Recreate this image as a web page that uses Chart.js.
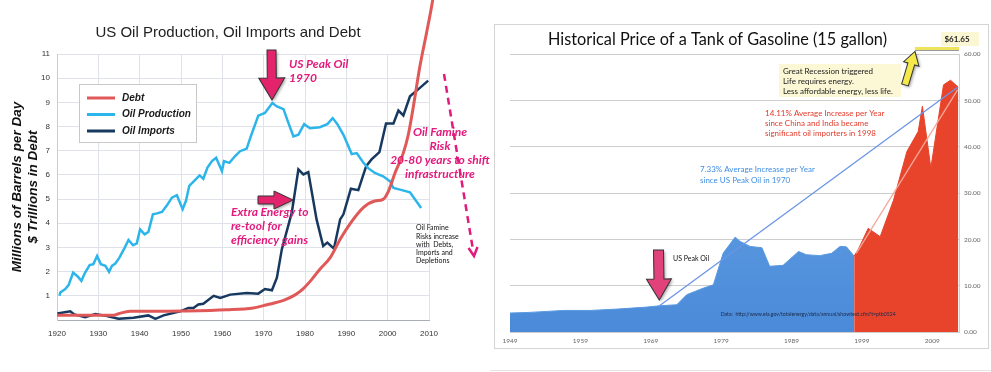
<!DOCTYPE html>
<html lang="en">
<head>
  <meta charset="UTF-8">
  <title>US Oil Production, Imports, Debt and the Price of a Tank of Gasoline</title>
  <script src="https://cdn.jsdelivr.net/npm/chart.js"></script>
  <style>
    body { margin: 0; background: #fff; }
    #wrap { position: relative; width: 991px; height: 372px; overflow: hidden; }
    #oilChart { position: absolute; left: 0; top: 0; }
    #frame { position: absolute; left: 494px; top: 24px; width: 495px; height: 325px; box-sizing: border-box; border: 1px solid #d4d4d4; }
    #gasChart { position: absolute; left: 495px; top: 25px; }
    #baseLine { position: absolute; left: 490px; top: 370px; width: 501px; height: 1px; background: #e4e4e4; }
  </style>
</head>
<body>
  <div id="wrap">
    <canvas id="oilChart" width="490" height="372"></canvas>
    <div id="frame"></div>
    <canvas id="gasChart" width="493" height="323"></canvas>
    <div id="baseLine"></div>
  </div>

  <script>
    // ---- left chart: millions of barrels per day / $ trillions ----
    const decadeTicks = [1920, 1930, 1940, 1950, 1960, 1970, 1980, 1990, 2000, 2010];

    const debtYears  = [1920, 1933.7, 1934.9, 1937.7, 1942.6, 1950.4, 1961.1, 1967.5, 1970.8, 1974.8, 1977.6, 1979.6, 1981.6, 1983.6, 1986.1, 1988.5, 1991.1, 1994.1, 1996.9, 1998.9, 2000.2, 2001.8, 2003.8, 2005.0, 2006.2, 2007.8, 2009.4, 2010.9, 2011.5];
    const debtValues = [0.2, 0.2, 0.26, 0.36, 0.36, 0.37, 0.42, 0.5, 0.63, 0.81, 1.04, 1.3, 1.67, 2.1, 2.58, 3.34, 4.03, 4.65, 4.92, 4.99, 5.33, 6.09, 6.91, 7.67, 8.81, 10.49, 11.87, 13.24, 14.0];

    const prodYears  = [1920.6, 1920.8, 1922, 1922.8, 1923.9, 1925, 1925.9, 1926.8, 1927.9, 1928.8, 1929.7, 1930.6, 1931.7, 1932.6, 1933.3, 1934.1, 1935.1, 1936.3, 1937.3, 1938.4, 1939.3, 1940.1, 1941.2, 1942.1, 1943.2, 1944.2, 1945.4, 1946.6, 1947.8, 1949, 1950.4, 1951.2, 1952, 1953.2, 1954.5, 1955.4, 1956.4, 1957.5, 1958.5, 1959.9, 1960.4, 1961.7, 1963.1, 1964.3, 1965.9, 1966.9, 1968.7, 1970.3, 1972.1, 1973.2, 1974.8, 1976, 1977.2, 1978.4, 1979.8, 1981.2, 1983.6, 1985.4, 1986.7, 1987.8, 1989.3, 1991.3, 1992.5, 1994.1, 1995.3, 1996.9, 1998.9, 2000.6, 2001.4, 2003, 2005.4, 2008.1];
    const prodValues = [1.0, 1.14, 1.28, 1.44, 1.96, 1.8, 1.62, 1.96, 2.27, 2.31, 2.65, 2.31, 2.24, 1.99, 2.24, 2.33, 2.58, 2.96, 3.31, 3.09, 3.17, 3.75, 3.54, 3.64, 4.37, 4.41, 4.47, 4.74, 5.06, 5.16, 4.58, 4.93, 5.55, 5.75, 5.98, 5.84, 6.3, 6.57, 6.71, 6.16, 6.57, 6.5, 6.78, 6.98, 7.09, 7.6, 8.45, 8.56, 8.97, 8.83, 8.72, 8.14, 7.59, 7.66, 8.1, 7.93, 7.97, 8.1, 8.35, 8.11, 7.66, 6.86, 6.9, 6.51, 6.28, 6.08, 5.94, 5.73, 5.46, 5.39, 5.28, 4.63];

    const importYears  = [1920.1, 1923.2, 1924.2, 1926.8, 1929.3, 1932.1, 1934.9, 1938.5, 1942.1, 1943.8, 1945.8, 1949.8, 1951.8, 1953, 1954.2, 1955.4, 1957.9, 1959.5, 1961.9, 1965.9, 1968.7, 1970.3, 1972, 1973.2, 1974.4, 1976.8, 1978.4, 1979.6, 1980.8, 1982.8, 1984.4, 1985.4, 1987, 1988.5, 1989.3, 1991.1, 1992.9, 1994.8, 1996.1, 1998, 1999.6, 2001.4, 2002.6, 2003.8, 2005.4, 2007.8, 2009.8];
    const importValues = [0.27, 0.36, 0.23, 0.12, 0.25, 0.16, 0.05, 0.09, 0.19, 0.05, 0.19, 0.36, 0.5, 0.5, 0.64, 0.67, 1.0, 0.91, 1.05, 1.12, 1.09, 1.28, 1.23, 1.75, 2.93, 4.44, 6.23, 6.02, 6.12, 4.16, 3.06, 3.2, 2.95, 4.16, 4.37, 5.43, 5.37, 6.36, 6.64, 6.94, 8.13, 8.13, 8.66, 8.46, 9.25, 9.6, 9.9];

    // ---- right chart: $ per 15 gallon tank ----
    const gasYearTicks = [1949, 1959, 1969, 1979, 1989, 1999, 2009];

    const tankYearsBlue = [1949, 1951.8, 1956.6, 1960.4, 1964.2, 1968.4, 1970.3, 1972.7, 1974.1, 1976.5, 1977.9, 1979.3, 1981.0, 1981.7, 1983.1, 1984.8, 1985.9, 1987.8, 1990.0, 1991.1, 1993.0, 1994.7, 1995.9, 1996.8, 1997.9];
    const tankPriceBlue = [4.1, 4.24, 4.66, 4.66, 4.95, 5.38, 5.67, 5.89, 8.05, 9.49, 10.21, 17.05, 20.5, 19.57, 18.5, 18.2, 14.2, 14.4, 17.4, 16.7, 16.5, 17.0, 18.5, 18.4, 16.4];

    const tankYearsRed = [1997.9, 1998.5, 1999.9, 2001.6, 2003.5, 2005.4, 2007.0, 2007.6, 2008.8, 2010.6, 2011.6, 2012.7];
    const tankPriceRed = [16.4, 17.9, 22.4, 20.6, 28.5, 39.0, 43.3, 48.8, 35.4, 53.4, 54.4, 52.9];

    const trend1970Years = [1970.1, 2012.6];
    const trend1970Price = [5.5, 52.9];
    const trend1998Years = [1998.2, 2012.6];
    const trend1998Price = [17.0, 52.3];

    const toXY = (xs, ys) => xs.map((x, i) => ({ x: x, y: ys[i] }));

    // draws a block arrow from tail (x0,y0) to tip (x1,y1)
    function blockArrow(ctx, x0, y0, x1, y1, shaftW, headW, headL, fill) {
      const len = Math.hypot(x1 - x0, y1 - y0);
      ctx.save();
      ctx.translate(x0, y0);
      ctx.rotate(Math.atan2(y1 - y0, x1 - x0));
      ctx.beginPath();
      ctx.moveTo(0, -shaftW / 2);
      ctx.lineTo(len - headL, -shaftW / 2);
      ctx.lineTo(len - headL, -headW / 2);
      ctx.lineTo(len, 0);
      ctx.lineTo(len - headL, headW / 2);
      ctx.lineTo(len - headL, shaftW / 2);
      ctx.lineTo(0, shaftW / 2);
      ctx.closePath();
      ctx.shadowColor = 'rgba(0,0,0,0.35)';
      ctx.shadowBlur = 3;
      ctx.shadowOffsetX = 1.5;
      ctx.shadowOffsetY = 1.5;
      ctx.fillStyle = fill;
      ctx.fill();
      ctx.shadowColor = 'transparent';
      ctx.strokeStyle = '#333';
      ctx.lineWidth = 1;
      ctx.stroke();
      ctx.restore();
    }

    function textLines(ctx, list, x, y, step, font, color, align, maxW) {
      ctx.font = font;
      ctx.fillStyle = color;
      ctx.textAlign = align || 'left';
      ctx.textBaseline = 'middle';
      list.forEach((t, i) => {
        if (maxW) ctx.fillText(t, x, y + i * step, maxW);
        else ctx.fillText(t, x, y + i * step);
      });
    }

    const MAGENTA = '#e3197c';

    const oilNotes = {
      id: 'oilNotes',
      afterDraw(chart) {
        const ctx = chart.ctx;
        ctx.save();
        textLines(ctx, ['US Oil Production, Oil Imports and Debt'], 228, 33, 0, '15px "Liberation Sans"', '#222', 'center');

        // legend box
        ctx.fillStyle = '#fff';
        ctx.fillRect(79.5, 84.5, 117, 58);
        ctx.strokeStyle = '#c9c9c9';
        ctx.lineWidth = 1;
        ctx.strokeRect(79.5, 84.5, 117, 58);
        chart.data.datasets.forEach((ds, i) => {
          const ly = 98 + i * 16.5;
          ctx.strokeStyle = ds.borderColor;
          ctx.lineWidth = 3;
          ctx.beginPath();
          ctx.moveTo(87, ly);
          ctx.lineTo(115, ly);
          ctx.stroke();
          textLines(ctx, [ds.label], 122, ly, 0, 'italic bold 10px "Liberation Sans"', '#1a1a1a');
        });

        blockArrow(ctx, 271.5, 50, 272, 100, 9, 26, 22, '#e3246c');
        blockArrow(ctx, 258, 200, 293, 200, 8, 18, 19, '#e3246c');

        const note = 'italic bold 12px Lato';
        textLines(ctx, ['US Peak Oil', '1970'], 289, 64, 14, note, MAGENTA);
        textLines(ctx, ['Extra Energy to', 're-tool for', 'efficiency gains'], 231, 212, 14, note, MAGENTA);
        textLines(ctx, ['Oil Famine', 'Risk', '20-80 years to shift', 'infrastructure'], 440, 132, 14, note, MAGENTA, 'center');
        textLines(ctx, ['Oil Famine', 'Risks increase', 'with  Debts,', 'Imports and', 'Depletions'], 416, 228, 8.3, '7px Lato', '#111');

        // dashed risk arrow
        ctx.strokeStyle = MAGENTA;
        ctx.lineWidth = 2.5;
        ctx.setLineDash([7, 5]);
        ctx.beginPath();
        ctx.moveTo(444, 74);
        ctx.lineTo(473, 250);
        ctx.stroke();
        ctx.setLineDash([]);
        ctx.beginPath();
        ctx.moveTo(468.5, 248);
        ctx.lineTo(474, 256);
        ctx.lineTo(477.5, 247);
        ctx.stroke();
        ctx.restore();
      }
    };

    const gasNotes = {
      id: 'gasNotes',
      afterDraw(chart) {
        const ctx = chart.ctx;
        ctx.save();
        textLines(ctx, ['Historical Price of a Tank of Gasoline (15 gallon)'], 222.5, 14, 0, '18px Lato', '#111', 'center', 339);

        // $61.65 marker
        ctx.fillStyle = '#fbf7d3';
        ctx.fillRect(446, 7, 38, 14);
        textLines(ctx, ['$61.65'], 462, 14, 0, 'bold 8px Lato', '#222', 'center');
        ctx.strokeStyle = '#9a9a9a';
        ctx.lineWidth = 1;
        ctx.beginPath();
        ctx.moveTo(420, 25.5);
        ctx.lineTo(464, 25.5);
        ctx.stroke();
        ctx.strokeStyle = '#eee35c';
        ctx.lineWidth = 3;
        ctx.beginPath();
        ctx.moveTo(420, 23.5);
        ctx.lineTo(464, 23.5);
        ctx.stroke();

        // recession note
        ctx.fillStyle = '#fcf8d6';
        ctx.fillRect(284, 39, 122, 33);
        textLines(ctx, ['Great Recession triggered', 'Life requires energy.', 'Less affordable energy, less life.'], 288, 46, 10, '8px Lato', '#222');
        blockArrow(ctx, 410, 60, 420, 26.5, 7, 16, 13, '#f4e84a');

        textLines(ctx, ['14.11% Average Increase per Year', 'since China and India became', 'significant oil importers in 1998'], 270, 88, 10, '8px Lato', '#e23a2a');
        textLines(ctx, ['7.33% Average Increase per Year', 'since US Peak Oil in 1970'], 205, 144, 11, '8px Lato', '#3f8ee3');

        blockArrow(ctx, 163.5, 225, 164.3, 275, 10, 25, 21, '#e2427a');
        textLines(ctx, ['US Peak Oil'], 178, 234, 0, '7px Lato', '#111');
        textLines(ctx, ['Data:  http://www.eia.gov/totalenergy/data/annual/showtext.cfm?t=ptb0524'], 225.7, 289, 0, '5.5px Lato', '#1b2a4a', 'left', 175);
        ctx.restore();
      }
    };

    new Chart(document.getElementById('oilChart'), {
      type: 'line',
      data: {
        datasets: [
          { label: 'Debt', data: toXY(debtYears, debtValues), borderColor: '#e05858', borderWidth: 3, cubicInterpolationMode: 'monotone', clip: false },
          { label: 'Oil Production', data: toXY(prodYears, prodValues), borderColor: '#2cb5ea', borderWidth: 2.5 },
          { label: 'Oil Imports', data: toXY(importYears, importValues), borderColor: '#17395f', borderWidth: 2.5 }
        ]
      },
      options: {
        responsive: false,
        animation: false,
        layout: { padding: { left: 0, top: 54, right: 61, bottom: 0 } },
        elements: { point: { radius: 0 }, line: { tension: 0 } },
        plugins: { legend: { display: false }, tooltip: { enabled: false } },
        scales: {
          x: {
            type: 'linear',
            min: 1920,
            max: 2010,
            afterFit: (s) => { s.height = 52; },
            afterBuildTicks: (s) => { s.ticks = decadeTicks.map(v => ({ value: v })); },
            grid: { color: '#dfe2e8', drawTicks: false },
            border: { color: '#a9adb5' },
            ticks: { padding: 9, color: '#333', font: { family: 'Liberation Sans', size: 8 }, callback: v => String(v) }
          },
          y: {
            min: 0,
            max: 11,
            afterFit: (s) => { s.width = 57; },
            grid: { color: '#dfe2e8', drawTicks: false },
            border: { color: '#c9ccd2' },
            ticks: { stepSize: 1, padding: 7, color: '#333', font: { family: 'Liberation Sans', size: 8 }, callback: v => (v === 0 ? '' : String(v)) },
            title: {
              display: true,
              text: ['Millions of Barrels per Day', '$ Trillions in Debt'],
              color: '#111',
              font: { family: 'Liberation Sans', size: 13.5, style: 'italic', weight: 'bold' },
              padding: { top: 9, bottom: 0 }
            }
          }
        }
      },
      plugins: [oilNotes]
    });

    new Chart(document.getElementById('gasChart'), {
      type: 'line',
      data: {
        datasets: [
          { label: 'Trend since US Peak Oil 1970', data: toXY(trend1970Years, trend1970Price), borderColor: '#6b95e6', borderWidth: 1.3, fill: false },
          { label: 'Trend since 1998', data: toXY(trend1998Years, trend1998Price), borderColor: '#f4a89c', borderWidth: 1.3, fill: false },
          {
            label: 'Tank price 1949-1998',
            data: toXY(tankYearsBlue, tankPriceBlue),
            fill: 'origin',
            borderWidth: 1,
            borderColor: '#5a9ae0',
            backgroundColor: (c) => {
              const area = c.chart.chartArea;
              if (!area) return '#5a9ae0';
              const g = c.chart.ctx.createLinearGradient(0, area.top, 0, area.bottom);
              g.addColorStop(0, '#6faae9');
              g.addColorStop(1, '#4a8ad8');
              return g;
            }
          },
          { label: 'Tank price since 1998', data: toXY(tankYearsRed, tankPriceRed), fill: 'origin', borderWidth: 1, borderColor: '#e8442b', backgroundColor: '#e8442b' }
        ]
      },
      options: {
        responsive: false,
        animation: false,
        layout: { padding: { left: 15, top: 29.3, right: 0, bottom: 0 } },
        elements: { point: { radius: 0 }, line: { tension: 0 } },
        plugins: { legend: { display: false }, tooltip: { enabled: false } },
        scales: {
          x: {
            type: 'linear',
            min: 1949,
            max: 2012.8,
            afterFit: (s) => { s.height = 16; },
            afterBuildTicks: (s) => { s.ticks = gasYearTicks.map(v => ({ value: v })); },
            grid: { display: false, drawTicks: false },
            border: { display: false },
            ticks: { padding: 5, color: '#666', font: { family: 'Lato', size: 6.5 }, callback: v => String(v) }
          },
          y: {
            position: 'right',
            min: 0,
            max: 60,
            afterFit: (s) => { s.width = 29; },
            grid: { color: '#cdcdcd', drawTicks: false },
            border: { color: '#d0d0d0' },
            ticks: { stepSize: 10, padding: 5, color: '#666', font: { family: 'Lato', size: 6.5 }, callback: v => v.toFixed(2) }
          }
        }
      },
      plugins: [gasNotes]
    });
  </script>
</body>
</html>
